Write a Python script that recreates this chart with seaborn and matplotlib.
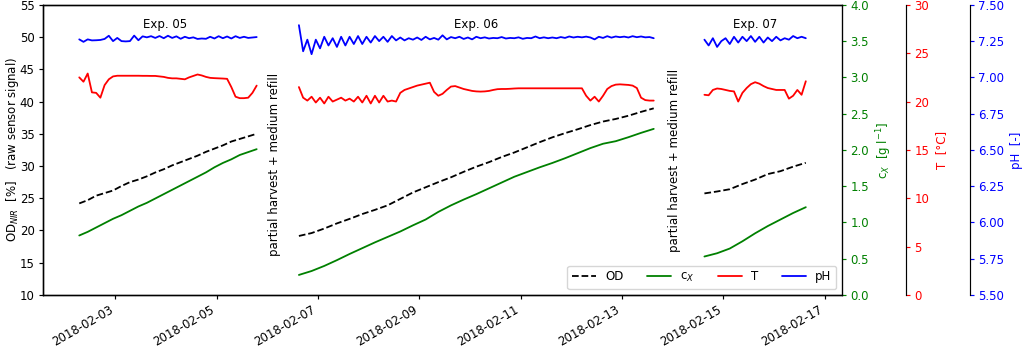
import numpy as np
import pandas as pd
import matplotlib
matplotlib.use("Agg")
import matplotlib.pyplot as plt
import matplotlib.dates as mdates
import seaborn as sns

# Start of each experiment and sampling steps [h]
starts = {'05': '2018-02-02 07:00', '06': '2018-02-06 15:00', '07': '2018-02-14 15:00'}
step_slow = {'05': 4, '06': 6, '07': 6}      # OD and biomass
step_fast = 2                                # temperature and pH

# OD_NIR [%]
od_05 = [24.2, 24.7, 25.4, 25.8, 26.2, 26.9, 27.5, 27.9, 28.4, 29.0, 29.5,
         30.1, 30.6, 31.1, 31.6, 32.2, 32.7, 33.2, 33.8, 34.2, 34.6, 35.0]
od_06 = [19.15, 19.6, 20.3, 21.1, 21.8, 22.55, 23.2, 23.9, 24.9, 25.9,
         26.7, 27.5, 28.25, 29.1, 29.9, 30.6, 31.4, 32.1, 32.9, 33.7,
         34.45, 35.1, 35.7, 36.35, 36.9, 37.3, 37.8, 38.4, 38.95]
od_07 = [25.75, 26.05, 26.4, 27.2, 27.9, 28.75, 29.2, 29.9, 30.5]

# c_X [g/l]
cx_05 = [0.82, 0.87, 0.93, 0.99, 1.05, 1.10, 1.16, 1.22, 1.27, 1.33, 1.39,
         1.45, 1.51, 1.57, 1.63, 1.69, 1.76, 1.82, 1.87, 1.93, 1.97, 2.01]
cx_06 = [0.276, 0.33, 0.40, 0.48, 0.565, 0.645, 0.725, 0.80, 0.875, 0.96,
         1.04, 1.145, 1.235, 1.315, 1.39, 1.47, 1.55, 1.63, 1.695, 1.76,
         1.82, 1.885, 1.955, 2.025, 2.085, 2.12, 2.175, 2.235, 2.29]
cx_07 = [0.53, 0.575, 0.64, 0.74, 0.85, 0.95, 1.04, 1.13, 1.21]

# T [degC]
t_05 = [22.5, 22.05, 22.9, 20.95, 20.9, 20.4, 21.7, 22.3, 22.6, 22.67,
        22.67, 22.67, 22.67, 22.67, 22.67, 22.66, 22.66, 22.65, 22.65, 22.6,
        22.55, 22.45, 22.4, 22.4, 22.35, 22.3, 22.5, 22.65, 22.8, 22.7,
        22.55, 22.45, 22.42, 22.4, 22.38, 22.35, 21.5, 20.5, 20.35, 20.35,
        20.4, 20.9, 21.65]
t_06 = [21.5, 20.4, 20.1, 20.5, 19.9, 20.4, 19.8, 20.5, 20.0, 20.2,
        20.4, 20.1, 20.3, 20.0, 20.5, 19.9, 20.6, 19.8, 20.6, 19.9,
        20.6, 20.0, 20.1, 20.0, 20.9, 21.2, 21.35, 21.5, 21.65, 21.75,
        21.85, 21.95, 21.0, 20.6, 20.8, 21.2, 21.55, 21.6, 21.45, 21.3,
        21.2, 21.1, 21.05, 21.03, 21.05, 21.1, 21.2, 21.28, 21.3, 21.3,
        21.32, 21.35, 21.37, 21.37, 21.37, 21.37, 21.37, 21.37, 21.37, 21.37,
        21.37, 21.37, 21.37, 21.37, 21.37, 21.37, 21.37, 21.37, 20.6, 20.1,
        20.5, 20.0, 20.6, 21.3, 21.6, 21.75, 21.78, 21.75, 21.72, 21.65,
        21.4, 20.4, 20.15, 20.1, 20.1]
t_07 = [20.7, 20.65, 21.2, 21.35, 21.3, 21.2, 21.1, 21.05, 20.0, 20.9,
        21.4, 21.8, 22.0, 21.85, 21.6, 21.4, 21.3, 21.2, 21.2, 21.2,
        20.3, 20.6, 21.2, 20.7, 22.1]

# pH [-]
ph_05 = [7.262, 7.245, 7.262, 7.255, 7.256, 7.258, 7.265, 7.287, 7.250, 7.272,
         7.250, 7.248, 7.250, 7.288, 7.256, 7.283, 7.276, 7.284, 7.272, 7.285,
         7.270, 7.287, 7.272, 7.283, 7.266, 7.280, 7.270, 7.276, 7.265, 7.268,
         7.266, 7.280, 7.268, 7.284, 7.270, 7.282, 7.268, 7.284, 7.272, 7.280,
         7.272, 7.275, 7.278]
ph_06 = [7.36, 7.18, 7.26, 7.16, 7.26, 7.20, 7.28, 7.22, 7.27, 7.21,
         7.28, 7.22, 7.28, 7.23, 7.285, 7.23, 7.28, 7.24, 7.285, 7.25,
         7.28, 7.245, 7.285, 7.255, 7.275, 7.255, 7.27, 7.26, 7.275, 7.258,
         7.28, 7.262, 7.272, 7.26, 7.29, 7.262, 7.278, 7.27, 7.28, 7.265,
         7.275, 7.262, 7.28, 7.27, 7.276, 7.268, 7.272, 7.27, 7.278, 7.268,
         7.272, 7.27, 7.276, 7.266, 7.272, 7.27, 7.282, 7.27, 7.276, 7.27,
         7.275, 7.27, 7.278, 7.272, 7.282, 7.275, 7.28, 7.276, 7.281, 7.275,
         7.262, 7.28, 7.272, 7.284, 7.274, 7.282, 7.277, 7.281, 7.275, 7.284,
         7.277, 7.282, 7.276, 7.278, 7.27]
ph_07 = [7.26, 7.22, 7.27, 7.21, 7.25, 7.27, 7.23, 7.28, 7.24, 7.28,
         7.25, 7.285, 7.245, 7.28, 7.24, 7.275, 7.25, 7.28, 7.255, 7.27,
         7.26, 7.285, 7.27, 7.28, 7.27]


def frame(name, data, step):
    """Long table time / value / experiment for one signal."""
    parts = []
    for exp, vals in data.items():
        dt = step[exp] if isinstance(step, dict) else step
        t = pd.Timestamp(starts[exp]) + pd.to_timedelta(np.arange(len(vals)) * dt, unit='h')
        parts.append(pd.DataFrame({'time': t, name: vals, 'exp': exp}))
    return pd.concat(parts, ignore_index=True)


df_od = frame('OD', {'05': od_05, '06': od_06, '07': od_07}, step_slow)
df_cx = frame('cX', {'05': cx_05, '06': cx_06, '07': cx_07}, step_slow)
df_t = frame('T', {'05': t_05, '06': t_06, '07': t_07}, step_fast)
df_ph = frame('pH', {'05': ph_05, '06': ph_06, '07': ph_07}, step_fast)

# Plot
sns.set_style("ticks", {"axes.edgecolor": "black", "xtick.color": "black", "ytick.color": "black",
                        "text.color": "black", "axes.labelcolor": "black"})
plt.rcParams.update({'font.size': 8.5, 'lines.linewidth': 1.3, 'axes.linewidth': 0.85,
                     'xtick.major.size': 3, 'ytick.major.size': 3,
                     'xtick.major.width': 0.85, 'ytick.major.width': 0.85,
                     'xtick.major.pad': 3, 'ytick.major.pad': 3})

fig, ax = plt.subplots(figsize=(10.22, 3.47), dpi=100)
ax_cx = ax.twinx()
ax_t = ax.twinx()
ax_ph = ax.twinx()
ax_t.spines['right'].set_position(('axes', 1.08))
ax_ph.spines['right'].set_position(('axes', 1.16))

sns.lineplot(data=df_od, x='time', y='OD', units='exp', estimator=None, color='k',
             linestyle='--', label='OD', legend=False, ax=ax)
sns.lineplot(data=df_cx, x='time', y='cX', units='exp', estimator=None, color='green',
             label='c$_X$', legend=False, ax=ax_cx)
sns.lineplot(data=df_t, x='time', y='T', units='exp', estimator=None, color='red',
             label='T', legend=False, ax=ax_t)
sns.lineplot(data=df_ph, x='time', y='pH', units='exp', estimator=None, color='blue',
             label='pH', legend=False, ax=ax_ph)

ax.set_ylim(10, 55)
ax_cx.set_ylim(0, 4.0)
ax_t.set_ylim(0, 30)
ax_ph.set_ylim(5.5, 7.5)

ax.set_ylabel(r'OD$_{NIR}$  [%]   (raw sensor signal)', labelpad=-1)
ax_cx.set_ylabel(r'c$_X$  [g l$^{-1}$]', color='green')
ax_t.set_ylabel('T  [°C]', color='red')
ax_ph.set_ylabel('pH  [-]', color='blue')
for a, c in ((ax_cx, 'green'), (ax_t, 'red'), (ax_ph, 'blue')):
    a.tick_params(axis='y', colors=c)
    a.set_xlabel('')
ax.set_xlabel('')

ax.xaxis.set_major_locator(mdates.DayLocator(interval=2))
ax.xaxis.set_major_formatter(mdates.DateFormatter('%Y-%m-%d'))
for lbl in ax.get_xticklabels():
    lbl.set_rotation(30)
    lbl.set_ha('right')

# Annotations
ax.text(pd.Timestamp('2018-02-03 23:40'), 51.9, 'Exp. 05', ha='center', va='center')
ax.text(pd.Timestamp('2018-02-10 03:00'), 51.9, 'Exp. 06', ha='center', va='center')
ax.text(pd.Timestamp('2018-02-15 15:00'), 51.9, 'Exp. 07', ha='center', va='center')
ax.text(pd.Timestamp('2018-02-06 03:30'), 30.2, 'partial harvest + medium refill',
        rotation=90, ha='center', va='center')
ax.text(pd.Timestamp('2018-02-14 01:00'), 30.9, 'partial harvest + medium refill',
        rotation=90, ha='center', va='center')

# Legend
handles, labels = [], []
for a in (ax, ax_cx, ax_t, ax_ph):
    h, l = a.get_legend_handles_labels()
    handles.append(h[0])
    labels.append(l[0])
ax_ph.legend(handles, labels, loc='lower right', ncol=4, frameon=True)

fig.subplots_adjust(left=0.042, right=0.824, bottom=0.15, top=0.986)
plt.savefig('out.png', dpi=100)
